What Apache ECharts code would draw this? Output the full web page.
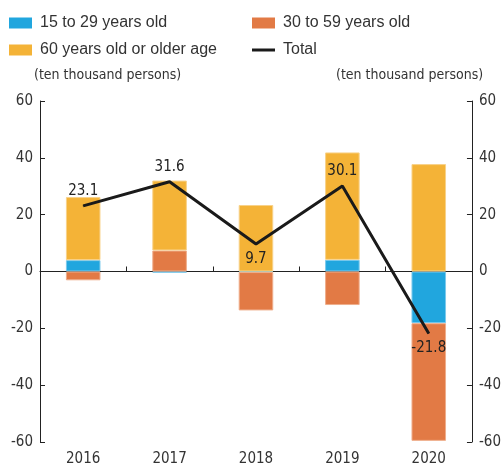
<!DOCTYPE html>
<html>
<head>
<meta charset="utf-8">
<script src="https://cdn.jsdelivr.net/npm/echarts@6/dist/echarts.min.js"></script>
<style>
  html, body { margin: 0; padding: 0; background: #fff; }
  #main { width: 504px; height: 471px; }
</style>
</head>
<body>
<div id="main"></div>
<script>
// data
var years = ['2016', '2017', '2018', '2019', '2020'];
var young = [4.0, -0.4, -0.2, 4.1, -18.2];     // 15 to 29
var middle = [-3.1, 7.4, -13.5, -11.8, -41.4]; // 30 to 59
var old = [22.2, 24.6, 23.4, 37.8, 37.8];      // 60+
var total = [23.1, 31.6, 9.7, 30.1, -21.8];
var yTicks = { min: -60, max: 60, interval: 20 };

var font = '"Liberation Sans Narrow", "DejaVu Sans Condensed", "Liberation Sans", sans-serif';
var txt = '#333';
var labelPos = ['top', 'top', 'bottom', 'top', 'bottom'];

function legendAt(name, left, top, w, h) {
    return {
        data: [{ name: name, icon: 'rect' }],
        left: left, top: top,
        itemWidth: w, itemHeight: h,
        itemGap: 0,
        selectedMode: false,
        itemStyle: { borderWidth: 0 },
        textStyle: { fontSize: 16, color: txt, fontFamily: 'Liberation Sans, sans-serif', padding: [0, 0, 0, 3] }
    };
}

function barSeries(name, data, color, border) {
    return {
        name: name,
        type: 'bar',
        stack: 'age',
        barWidth: '40%',
        data: data,
        itemStyle: { color: color, borderColor: border, borderWidth: 1 }
    };
}

var option = {
    animation: false,
    textStyle: { fontFamily: font },
    color: ['#21a6de', '#e27a45', '#f4b337', '#1a1a1a'],
    legend: [
        legendAt('15 to 29 years old', 4, 10, 23, 11),
        legendAt('30 to 59 years old', 247, 10, 23, 11),
        legendAt('60 years old or older age', 4, 37, 23, 11),
        legendAt('Total', 247, 37, 23, 3)
    ],
    graphic: [
        { type: 'text', left: 34, top: 68, style: { text: '(ten thousand persons)', font: '14px ' + font, fill: txt } },
        { type: 'text', left: 336, top: 68, style: { text: '(ten thousand persons)', font: '14px ' + font, fill: txt } }
    ],
    grid: { left: 40, right: 32, top: 101, bottom: 29 },
    xAxis: [
        {
            type: 'category',
            data: years,
            axisLine: { onZero: true, lineStyle: { color: '#222', width: 1 } },
            axisTick: { show: true, inside: true, length: 5, lineStyle: { color: '#222' } },
            axisLabel: { show: false }
        },
        {
            type: 'category',
            data: years,
            position: 'bottom',
            axisLine: { show: false, onZero: false },
            axisTick: { show: false },
            axisLabel: { show: true, fontSize: 15, color: txt, fontFamily: font, margin: 10 }
        }
    ],
    yAxis: [
        {
            type: 'value',
            min: yTicks.min, max: yTicks.max, interval: yTicks.interval,
            position: 'left',
            axisLine: { show: true, lineStyle: { color: '#222' } },
            axisTick: { show: true, inside: true, length: 5, lineStyle: { color: '#222' } },
            axisLabel: { fontSize: 15, color: txt, fontFamily: font, margin: 7 },
            splitLine: { show: false }
        },
        {
            type: 'value',
            min: yTicks.min, max: yTicks.max, interval: yTicks.interval,
            position: 'right',
            axisLine: { show: true, lineStyle: { color: '#222' } },
            axisTick: { show: true, inside: true, length: 5, lineStyle: { color: '#222' } },
            axisLabel: { fontSize: 15, color: txt, fontFamily: font, margin: 7 },
            splitLine: { show: false }
        }
    ],
    series: [
        barSeries('15 to 29 years old', young, '#21a6de', '#7cc9ec'),
        barSeries('30 to 59 years old', middle, '#e27a45', '#efae8c'),
        barSeries('60 years old or older age', old, '#f4b337', '#f8d28a'),
        {
            name: 'Total',
            type: 'line',
            z: 5,
            symbol: 'circle',
            symbolSize: 1,
            showSymbol: true,
            data: total.map(function (v, i) {
                return { value: v, label: { position: labelPos[i] } };
            }),
            lineStyle: { color: '#1a1a1a', width: 3 },
            itemStyle: { color: '#1a1a1a' },
            label: { show: true, fontSize: 15, color: '#222', fontFamily: font, distance: 7 }
        }
    ]
};

var chart = echarts.init(document.getElementById('main'));
chart.setOption(option);
</script>
</body>
</html>
